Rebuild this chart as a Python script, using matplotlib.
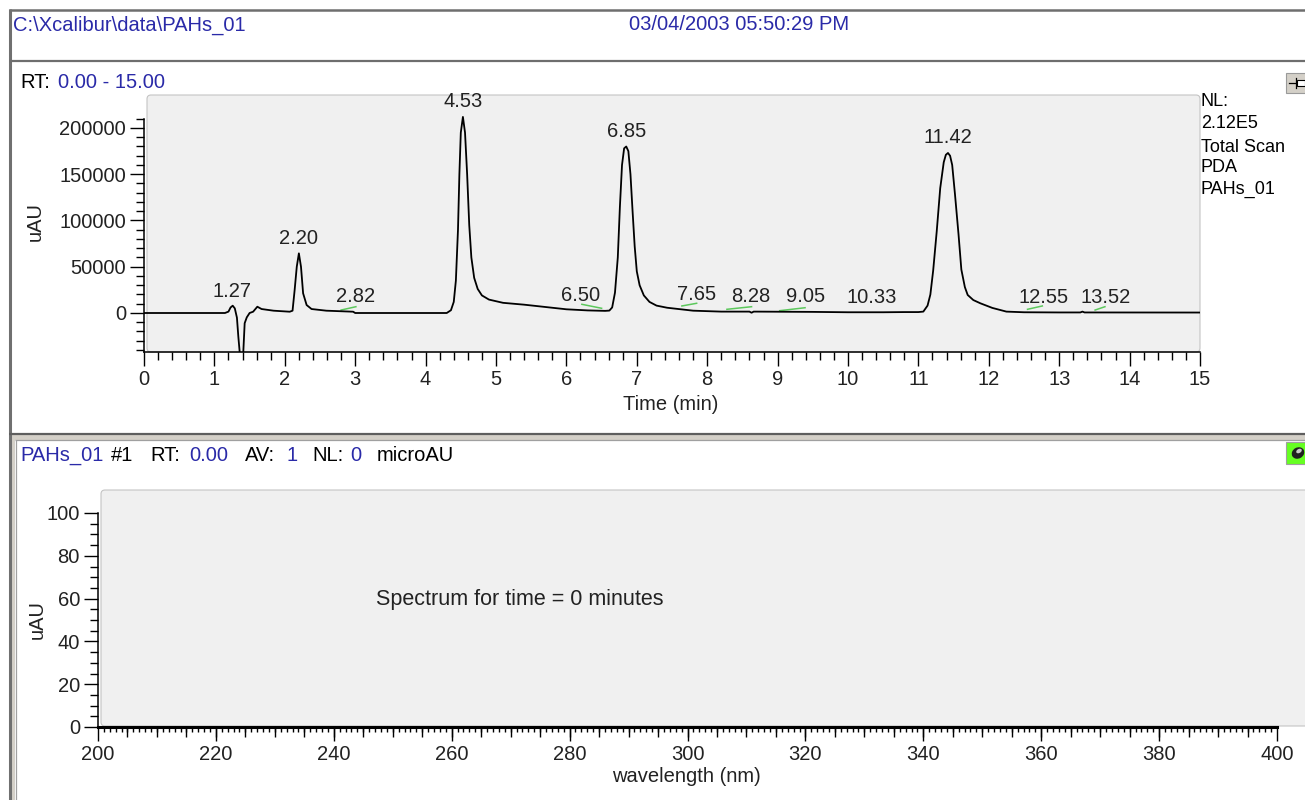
import numpy as np
import matplotlib
matplotlib.use("Agg")
import matplotlib.pyplot as plt
from matplotlib.patches import FancyBboxPatch, Rectangle, Ellipse
from matplotlib.lines import Line2D
from matplotlib.transforms import IdentityTransform
from matplotlib.ticker import FixedLocator, FixedFormatter, NullFormatter

W, H, DPI = 1305, 800, 100
plt.rcParams['font.family'] = ['Liberation Sans', 'DejaVu Sans']

BLUE = '#2a2aa8'
GREEN = '#5cc85c'

# ---- PDA total-scan chromatogram (time in min, signal in uAU) ----
time_min = [0.00, 1.15, 1.20, 1.23, 1.26, 1.29, 1.32, 1.34, 1.36, 1.39, 1.41,
            1.43, 1.46, 1.50, 1.55, 1.61, 1.67, 1.84, 2.07, 2.11, 2.14, 2.17,
            2.20, 2.23, 2.26, 2.31, 2.38, 2.59, 2.97, 3.00,
            4.30, 4.36, 4.40, 4.43, 4.46, 4.48, 4.50, 4.53, 4.56, 4.59, 4.62,
            4.65, 4.69, 4.74, 4.80, 4.90, 5.10, 5.40, 5.70, 6.00, 6.30, 6.55,
            6.61, 6.65, 6.69, 6.73, 6.76, 6.79, 6.82, 6.85, 6.88, 6.91, 6.94,
            6.97, 7.00, 7.04, 7.10, 7.18, 7.28, 7.43, 7.80, 8.20,
            8.60, 8.63, 8.66, 8.70, 9.50, 10.00, 10.50, 10.80,
            11.00, 11.07, 11.13, 11.17, 11.21, 11.26, 11.31, 11.36, 11.39,
            11.42, 11.45, 11.48, 11.52, 11.57, 11.61, 11.66, 11.70, 11.78,
            11.88, 12.05, 12.25, 12.50, 13.00, 13.30, 13.33, 13.36, 15.00]
signal_uau = [0, 0, 1500, 6000, 7900, 5000, -5000, -25600, -43000, -80000,
              -43000, -11000, -4700, 0, 1400, 6800, 4300, 2500, 1400, 2500,
              25000, 50000, 64500, 50000, 21300, 8600, 4300, 2500, 1400, 0,
              0, 3000, 12000, 35000, 90000, 150000, 195000, 212000, 195000,
              150000, 95000, 60000, 38000, 26000, 19000, 14500, 11000, 9000,
              6500, 4000, 2800, 2300,
              2600, 6000, 22000, 60000, 115000, 160000, 178000, 180000,
              175000, 150000, 110000, 72000, 45000, 30000, 19000, 12000,
              8000, 5700, 2500, 1500,
              1500, 300, 1500, 1500, 1200, 800, 800, 1000,
              1000, 1500, 8000, 20000, 46000, 88000, 135000, 163000, 171000,
              173000, 170000, 160000, 128000, 85000, 47000, 28000, 19500,
              14000, 10500, 5500, 1500, 800, 600, 600, 1500, 600, 500]

# labelled retention times
peak_rt = [1.27, 2.20, 2.82, 4.53, 6.50, 6.85, 7.65, 8.28, 9.05, 10.33,
           11.42, 12.55, 13.52]
peak_text = ["1.27", "2.20", "2.82", "4.53", "6.50", "6.85", "7.65", "8.28",
             "9.05", "10.33", "11.42", "12.55", "13.52"]
# horizontal shift of each label (pixels)
label_dx = [-1, 0, 13, 0, -21, 0, 14, 24, 24, 0, 0, 16, 10]

# integration baseline segments for the minor peaks
seg_t0 = [2.80, 6.22, 7.64, 8.28, 9.03, 12.55, 13.51]
seg_t1 = [3.01, 6.50, 7.85, 8.63, 9.39, 12.76, 13.65]
seg_v0 = [3200, 9400, 7600, 4000, 2500, 4000, 3200]
seg_v1 = [6800, 5100, 10500, 6800, 5700, 7600, 6800]

# ---- spectrum panel ----
wl_range = [200, 400]
spec_range = [0, 100]


def px_axes(fig, x0, y0, x1, y1):
    return fig.add_axes([x0 / W, 1 - y1 / H, (x1 - x0) / W, (y1 - y0) / H])


def hline(fig, y, x0, x1, color, lw):
    fig.add_artist(Line2D([x0, x1], [H - y, H - y], transform=IdentityTransform(),
                          color=color, lw=lw, solid_capstyle='butt', zorder=5))


def vline(fig, x, y0, y1, color, lw):
    fig.add_artist(Line2D([x, x], [H - y0, H - y1], transform=IdentityTransform(),
                          color=color, lw=lw, solid_capstyle='butt', zorder=5))


def ftext(fig, x, y, s, color='black', size=14.5, ha='left', **kw):
    fig.text(x / W, 1 - y / H, s, color=color, fontsize=size, ha=ha, va='center', **kw)


def gray_box(fig, x0, y0, x1, y1):
    fig.add_artist(FancyBboxPatch((x0, H - y1), x1 - x0, y1 - y0,
                                  boxstyle='round,pad=0,rounding_size=4',
                                  transform=IdentityTransform(), facecolor='#f0f0f0',
                                  edgecolor='#c4c4c4', lw=0.8, zorder=-1))


fig = plt.figure(figsize=(W / DPI, H / DPI), dpi=DPI, facecolor='white')

# ---- frame lines ----
hline(fig, 10, 9, W, '#6e6e6e', 1.8)
vline(fig, 9.8, 9, H, '#707070', 2.2)
hline(fig, 61, 9, W, '#6e6e6e', 1.6)
fig.add_artist(Rectangle((11, H - 439.5), W - 11, 4.5, transform=IdentityTransform(),
                         facecolor='#d4d0c8', edgecolor='none', zorder=4))
hline(fig, 434, 9, W, '#5e5e5e', 1.6)
hline(fig, 440, 15, W, '#a0a0a0', 0.9)
fig.add_artist(Rectangle((11, 0), 4, H - 435, transform=IdentityTransform(),
                         facecolor='#d4d0c8', edgecolor='none', zorder=4))
vline(fig, 15.8, 440, H, '#a0a0a0', 0.9)

# ---- header ----
ftext(fig, 13, 25, r"C:\Xcalibur\data\PAHs_01", color=BLUE)
ftext(fig, 739, 25, "03/04/2003 05:50:29 PM", color=BLUE, ha='center')
ftext(fig, 20, 82, "RT:")
ftext(fig, 58, 82, "0.00 - 15.00", color=BLUE)

# pin button
fig.add_artist(Rectangle((1286, H - 93), 20, 20, transform=IdentityTransform(),
                         facecolor='#d4d0c8', edgecolor='#9a9a9a', lw=0.8, zorder=5))
fig.add_artist(Line2D([1289, 1296], [H - 83, H - 83], transform=IdentityTransform(),
                      color='black', lw=0.9, zorder=6))
fig.add_artist(Line2D([1296, 1296], [H - 78, H - 88], transform=IdentityTransform(),
                      color='black', lw=0.9, zorder=6))
fig.add_artist(Rectangle((1297, H - 86), 8, 6, transform=IdentityTransform(),
                         facecolor='white', edgecolor='black', lw=0.8, zorder=6))

# ---- chromatogram ----
scale = 200000 / 185.0
ax1 = px_axes(fig, 144, 95, 1200, 352)
ax1.patch.set_visible(False)
gray_box(fig, 147, 95, 1200, 352)
ax1.set_xlim(0, 15)
ax1.set_ylim((313 - 352) * scale, (313 - 95) * scale)
ax1.plot(time_min, signal_uau, color='black', lw=1.3, zorder=3)
for a, b, c, d in zip(seg_t0, seg_t1, seg_v0, seg_v1):
    ax1.plot([a, b], [c, d], color=GREEN, lw=1.1, zorder=2)
for rt, txt, dx in zip(peak_rt, peak_text, label_dx):
    val = np.interp(rt, time_min, signal_uau)
    ax1.annotate(txt, xy=(rt, val), xytext=(dx * 0.72, 15 * 0.72),
                 textcoords='offset points', ha='center', va='center',
                 fontsize=14.5, color='#222222', zorder=4)

for s in ['top', 'right']:
    ax1.spines[s].set_visible(False)
ax1.spines['left'].set_bounds((313 - 352) * scale, 210000)
ax1.spines['left'].set_linewidth(1.1)
ax1.spines['bottom'].set_linewidth(1.1)
ax1.xaxis.set_major_locator(FixedLocator(np.arange(0, 16, 1)))
ax1.xaxis.set_minor_locator(FixedLocator(np.arange(0, 15.01, 0.2)))
ax1.yaxis.set_major_locator(FixedLocator(np.arange(0, 200001, 50000)))
ax1.yaxis.set_minor_locator(FixedLocator(np.arange(-40000, 210001, 10000)))
ax1.yaxis.set_major_formatter(FixedFormatter(['0', '50000', '100000', '150000', '200000']))
ax1.tick_params(axis='both', which='major', length=10, width=1, labelsize=14.5,
                colors='black', labelcolor='#222222')
ax1.tick_params(axis='both', which='minor', length=6, width=1)
ax1.tick_params(axis='x', which='major', pad=3)
ax1.tick_params(axis='y', which='major', pad=3)
ax1.set_xlabel("Time (min)", fontsize=14.5, color='#222222')
ax1.xaxis.set_label_coords((671 - 144) / 1056, -(405 - 352) / 257)
ax1.set_ylabel("uAU", fontsize=14.5, color='#222222')
ax1.yaxis.set_label_coords(-(144 - 35) / 1056, (352 - 222) / 257)
ax1.xaxis.label.set_va('center')
ax1.yaxis.label.set_va('center')

ftext(fig, 1201, 101, "NL:", size=13)
ftext(fig, 1201, 124, "2.12E5", size=13)
ftext(fig, 1201, 147, "Total Scan", size=13)
ftext(fig, 1201, 168, "PDA", size=13)
ftext(fig, 1201, 189, "PAHs_01", size=13)

# ---- spectrum header ----
parts = [(20, "PAHs_01", BLUE), (111, "#1", 'black'), (150, "RT:", 'black'),
         (189, "0.00", BLUE), (245, "AV:", 'black'), (287, "1", BLUE),
         (312, "NL:", 'black'), (350, "0", BLUE), (377, "microAU", 'black')]
for x, s, c in parts:
    ftext(fig, x, 456, s, color=c)

# green icon
fig.add_artist(Rectangle((1286, H - 464), 20, 22, transform=IdentityTransform(),
                         facecolor='#66ff22', edgecolor='#a0a0a0', lw=0.8, zorder=5))
fig.add_artist(Ellipse((1298, H - 453), 13, 11, angle=30, transform=IdentityTransform(),
                       facecolor='#202020', edgecolor='none', zorder=6))
fig.add_artist(Ellipse((1299, H - 451), 6, 4, angle=30, transform=IdentityTransform(),
                       facecolor='#c8c8c8', edgecolor='none', zorder=7))

# ---- spectrum axes ----
px_per_nm = (1277 - 98) / 200.0
px_per_unit = (727 - 513) / 100.0
ax2 = px_axes(fig, 98, 490, W, 727)
ax2.patch.set_visible(False)
gray_box(fig, 101, 490, W + 6, 726)
ax2.set_xlim(wl_range[0], wl_range[0] + (W - 98) / px_per_nm)
ax2.set_ylim(spec_range[0], (727 - 490) / px_per_unit)
for s in ['top', 'right']:
    ax2.spines[s].set_visible(False)
ax2.spines['bottom'].set_bounds(*wl_range)
ax2.spines['bottom'].set_linewidth(2.2)
ax2.spines['left'].set_bounds(*spec_range)
ax2.spines['left'].set_linewidth(1.1)
ax2.xaxis.set_major_locator(FixedLocator(np.arange(200, 401, 20)))
ax2.xaxis.set_minor_locator(FixedLocator(np.arange(200, 401, 1)))
ax2.yaxis.set_major_locator(FixedLocator(np.arange(0, 101, 20)))
ax2.yaxis.set_minor_locator(FixedLocator(np.arange(0, 101, 5)))
ax2.tick_params(axis='both', which='major', length=10, width=1, labelsize=14.5,
                labelcolor='#222222', pad=3)
ax2.tick_params(axis='x', which='minor', length=3.5, width=1)
ax2.tick_params(axis='y', which='minor', length=6, width=1)
# 5 nm intermediate ticks
sec = ax2.secondary_xaxis('bottom')
sec.set_xticks(np.arange(205, 400, 5))
sec.xaxis.set_major_formatter(NullFormatter())
sec.tick_params(axis='x', length=7, width=1)
sec.spines['bottom'].set_visible(False)

ax2.set_xlabel("wavelength (nm)", fontsize=14.5, color='#222222')
ax2.xaxis.set_label_coords((686 - 98) / (W - 98), -(777 - 727) / (727 - 490))
ax2.set_ylabel("uAU", fontsize=14.5, color='#222222')
ax2.yaxis.set_label_coords(-(98 - 37) / (W - 98), (727 - 620) / (727 - 490))
ax2.xaxis.label.set_va('center')
ax2.yaxis.label.set_va('center')

ftext(fig, 520, 599, "Spectrum for time = 0 minutes", size=15.5, ha='center', color='#222222')

fig.savefig("out.png", dpi=DPI, facecolor='white')
